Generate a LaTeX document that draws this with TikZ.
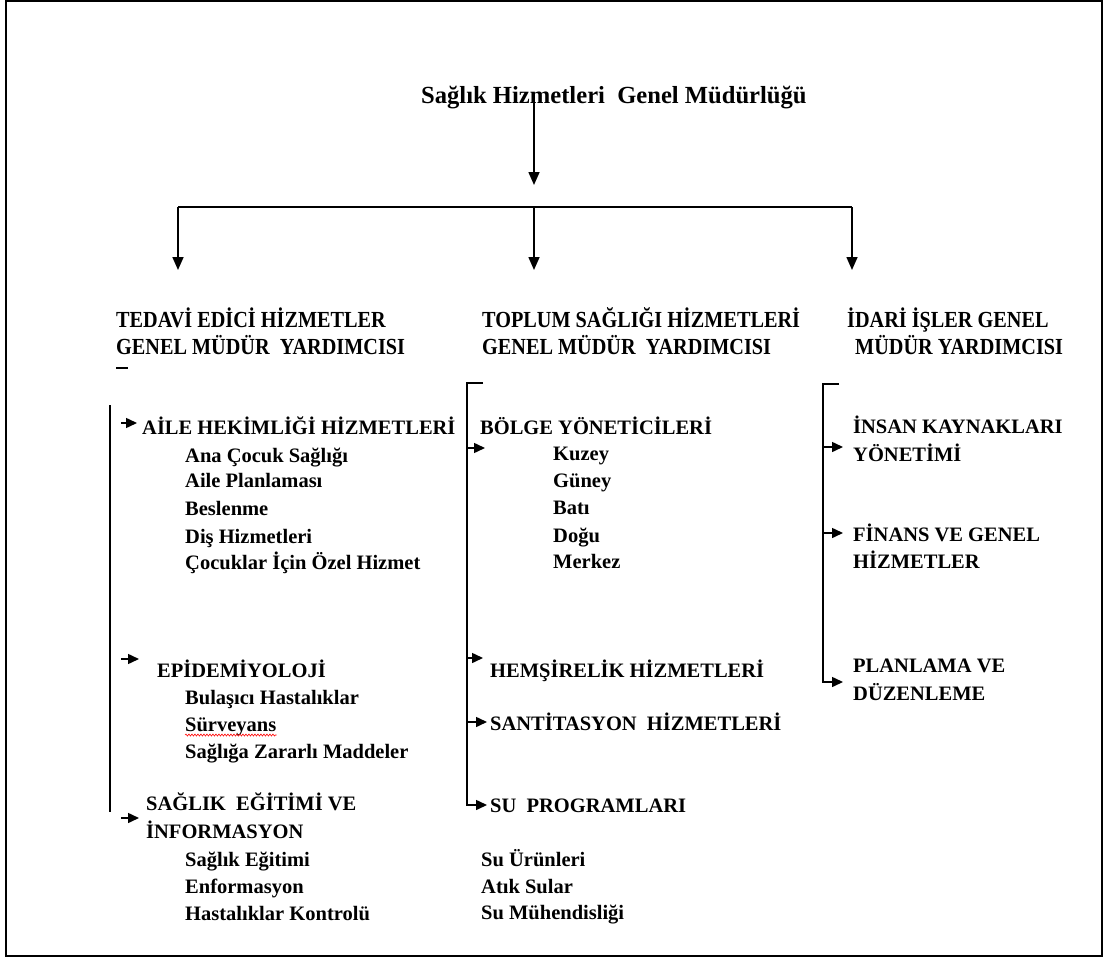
\documentclass[tikz,border=0pt]{standalone}
\usepackage{fontspec}
\setmainfont{Liberation Serif}
\usetikzlibrary{arrows.meta, positioning, calc, decorations.pathmorphing}

\tikzset{
  ok/.style={-{Triangle[width=11pt,length=13pt]}, line width=1.6pt, black},
  kisa/.style={-{Triangle[width=10pt,length=11pt]}, line width=1.5pt, black},
  cizgi/.style={line width=1.6pt, black},
  baslik/.style={anchor=base west, inner sep=0pt, font=\fontsize{24.6}{28}\selectfont\bfseries},
  birim/.style={anchor=base west, inner sep=0pt, font=\fontsize{23}{27}\selectfont\bfseries},
  alt/.style={anchor=base west, inner sep=0pt, font=\fontsize{20.5}{24}\selectfont\bfseries},
}

\begin{document}
\begin{tikzpicture}[x=1pt,y=-1pt]
  \useasboundingbox (0,0) rectangle (1104,958);
  % Çerçeve
  \draw[line width=2pt] (6,1) rectangle (1102,956);

  % Genel Müdürlük
  \node[baslik] (gm) at (421,103) {Sağlık Hizmetleri\ \ Genel Müdürlüğü};
  \coordinate (gmalt) at (534,100);
  \coordinate (gmuc) at (534,185);
  \coordinate (dal) at (534,207);
  \coordinate (dalsol) at (178,207);
  \coordinate (dalsag) at (852,207);
  \draw[ok] (gmalt) -- (gmuc);
  \draw[cizgi] (dalsol) -- (dalsag);
  \draw[ok] (dalsol) -- ++(0,63);
  \draw[ok] (dal) -- ++(0,63);
  \draw[ok] (dalsag) -- ++(0,63);

  % Genel müdür yardımcıları
  \node[birim] (ted1) at (116,327) {\scalebox{0.88}[1]{TEDAVİ EDİCİ HİZMETLER}};
  \node[birim] (ted2) at (116,354) {\scalebox{0.88}[1]{GENEL MÜDÜR\ \ YARDIMCISI}};
  \draw[line width=1.2pt] ([yshift=-14pt]ted2.base west) -- ++(12,0);
  \node[birim] (top1) at (482,327) {\scalebox{0.88}[1]{TOPLUM SAĞLIĞI HİZMETLERİ}};
  \node[birim] (top2) at (482,354) {\scalebox{0.88}[1]{GENEL MÜDÜR\ \ YARDIMCISI}};
  \node[birim] (ida1) at (847,327) {\scalebox{0.88}[1]{İDARİ İŞLER GENEL}};
  \node[birim] (ida2) at (855,354) {\scalebox{0.88}[1]{MÜDÜR YARDIMCISI}};

  % Sol sütun
  \coordinate (sol0) at (110,405);
  \coordinate (sol1) at (110,812);
  \draw[cizgi] (sol0) -- (sol1);
  \node[alt] (aile) at (142,434) {AİLE HEKİMLİĞİ HİZMETLERİ};
  \node[alt] (a1) at (185,462) {Ana Çocuk Sağlığı};
  \node[alt] (a2) at (185,487) {Aile Planlaması};
  \node[alt] (a3) at (185,515) {Beslenme};
  \node[alt] (a4) at (185,543) {Diş Hizmetleri};
  \node[alt] (a5) at (185,569) {Çocuklar İçin Özel Hizmet};
  \node[alt] (epi) at (157,677) {EPİDEMİYOLOJİ};
  \node[alt] (e1) at (185,704) {Bulaşıcı Hastalıklar};
  \node[alt] (e2) at (185,731) {Sürveyans};
  \draw[red, line width=0.6pt, decorate, decoration={snake, amplitude=1pt, segment length=3pt}]
    ([yshift=-4pt]e2.base west) -- ([yshift=-4pt]e2.base east);
  \node[alt] (e3) at (185,758) {Sağlığa Zararlı Maddeler};
  \node[alt] (egt1) at (146,810) {SAĞLIK\ \ EĞİTİMİ VE};
  \node[alt] (egt2) at (146,838) {İNFORMASYON};
  \node[alt] (g1) at (185,866) {Sağlık Eğitimi};
  \node[alt] (g2) at (185,893) {Enformasyon};
  \node[alt] (g3) at (185,920) {Hastalıklar Kontrolü};
  \coordinate (ok1) at (121,423);
  \coordinate (ok2) at (121,659);
  \coordinate (ok3) at (121,818);
  \draw[kisa, shorten >=5pt] (ok1) -- (ok1 -| aile.west);
  \draw[kisa, shorten >=18pt] (ok2) -- (ok2 -| epi.west);
  \draw[kisa, shorten >=7pt] (ok3) -- (ok3 -| egt1.west);

  % Orta sütun
  \node[alt] (bolge) at (480,434) {BÖLGE YÖNETİCİLERİ};
  \node[alt] (b1) at (553,460) {Kuzey};
  \node[alt] (b2) at (553,487) {Güney};
  \node[alt] (b3) at (553,514) {Batı};
  \node[alt] (b4) at (553,542) {Doğu};
  \node[alt] (b5) at (553,568) {Merkez};
  \node[alt] (hems) at (490,677) {HEMŞİRELİK HİZMETLERİ};
  \node[alt] (sant) at (490,730) {SANTİTASYON\ \ HİZMETLERİ};
  \node[alt] (supr) at (490,812) {SU\ \ PROGRAMLARI};
  \node[alt] (s1) at (481,866) {Su Ürünleri};
  \node[alt] (s2) at (481,893) {Atık Sular};
  \node[alt] (s3) at (481,919) {Su Mühendisliği};
  \coordinate (ort0) at (483,383);
  \coordinate (ort1) at (467,383);
  \coordinate (ort2) at (467,805);
  \coordinate (ortb) at (467,448);
  \coordinate (orth) at (467,658);
  \coordinate (orts) at (467,722);
  \draw[kisa, shorten >=3pt] (ort0) -- (ort1) -- (ort2) -- (ort2 -| supr.west);
  \draw[kisa] (ortb) -- ++(18,0);
  \draw[kisa] (orth) -- ++(16,0);
  \draw[kisa, shorten >=3pt] (orts) -- (orts -| sant.west);

  % Sağ sütun
  \node[alt] (ins1) at (853,433) {İNSAN KAYNAKLARI};
  \node[alt] (ins2) at (853,461) {YÖNETİMİ};
  \node[alt] (fin1) at (853,541) {FİNANS VE GENEL};
  \node[alt] (fin2) at (853,568) {HİZMETLER};
  \node[alt] (pln1) at (853,672) {PLANLAMA VE};
  \node[alt] (pln2) at (853,700) {DÜZENLEME};
  \coordinate (sag0) at (839,384);
  \coordinate (sag1) at (823,384);
  \coordinate (sag2) at (823,682);
  \coordinate (sagi) at (823,447);
  \coordinate (sagf) at (823,533);
  \draw[kisa, shorten >=10pt] (sag0) -- (sag1) -- (sag2) -- (sag2 -| pln1.west);
  \draw[kisa, shorten >=10pt] (sagi) -- (sagi -| ins1.west);
  \draw[kisa, shorten >=10pt] (sagf) -- (sagf -| fin1.west);
\end{tikzpicture}
\end{document}
